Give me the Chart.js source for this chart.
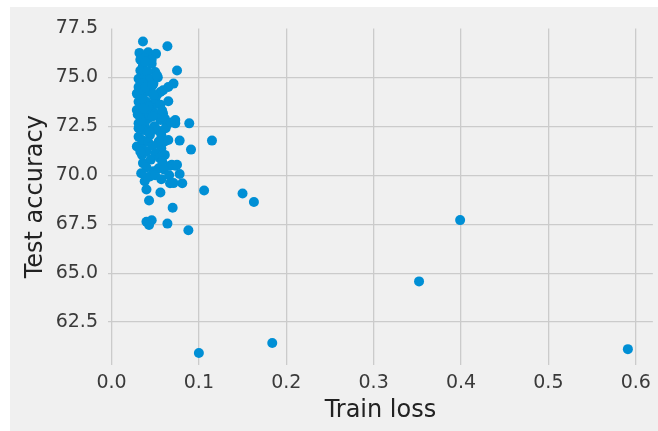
<!DOCTYPE html>
<html>
<head>
<meta charset="utf-8">
<script src="https://cdn.jsdelivr.net/npm/chart.js@4.4.1/dist/chart.umd.min.js"></script>
<style>
  body { margin: 0; background: #ffffff; }
  #wrap { position: absolute; left: 10px; top: 7px; width: 648px; height: 424px; background: #f0f0f0; }
</style>
</head>
<body>
<div id="wrap"><canvas id="myChart" width="648" height="424"></canvas></div>
<script>
// values
const trainLoss = [
    0.100, 0.184, 0.591, 0.352, 0.399, 0.106, 0.150, 0.163, 0.088, 0.064,
    0.070, 0.040, 0.046, 0.043, 0.043, 0.056, 0.067, 0.081, 0.040, 0.115,
    0.091, 0.078, 0.078, 0.073, 0.067, 0.038, 0.044, 0.048, 0.054, 0.036,
    0.035, 0.040, 0.035, 0.029, 0.031, 0.044, 0.057, 0.061, 0.057, 0.061,
    0.065, 0.036, 0.063, 0.073, 0.089, 0.054, 0.069, 0.075, 0.036, 0.064,
    0.032, 0.042, 0.051, 0.075, 0.036, 0.046, 0.050, 0.033, 0.031, 0.038,
    0.046, 0.031, 0.040, 0.048, 0.071, 0.065, 0.059, 0.056, 0.029, 0.036,
    0.044, 0.031, 0.040, 0.065, 0.048, 0.029, 0.036, 0.044, 0.050, 0.059,
    0.033, 0.042, 0.056, 0.061, 0.073, 0.057, 0.031, 0.038, 0.033, 0.038,
    0.035, 0.041, 0.044, 0.036, 0.032, 0.045, 0.050, 0.034, 0.042, 0.047,
    0.038, 0.043, 0.049, 0.053, 0.031, 0.035, 0.042, 0.047, 0.050, 0.033,
    0.045, 0.040, 0.055, 0.058, 0.052, 0.056, 0.046, 0.053, 0.039, 0.034,
    0.030, 0.048, 0.058, 0.062, 0.068, 0.041, 0.050, 0.057, 0.037, 0.044,
    0.039, 0.052, 0.047, 0.034, 0.060, 0.066, 0.071
];
const testAcc = [
    60.92, 61.43, 61.12, 64.58, 67.71, 69.22, 69.07, 68.63, 67.19, 67.53,
    68.34, 67.63, 67.70, 67.46, 68.71, 69.12, 69.59, 69.59, 69.27, 71.77,
    71.31, 71.77, 70.06, 70.49, 70.49, 69.69, 69.94, 70.20, 70.36, 70.62,
    71.04, 71.21, 71.55, 71.47, 71.97, 72.06, 72.06, 71.72, 71.38, 71.04,
    71.80, 72.57, 72.57, 72.65, 72.65, 71.72, 70.54, 70.54, 76.83, 76.59,
    76.25, 76.28, 76.20, 75.35, 75.61, 75.69, 75.27, 75.35, 74.93, 75.02,
    74.85, 74.51, 74.51, 74.68, 74.68, 74.51, 74.34, 74.25, 74.17, 74.09,
    74.25, 73.75, 73.75, 73.78, 73.58, 73.33, 73.24, 73.33, 73.15, 73.15,
    72.99, 72.90, 72.82, 72.90, 72.82, 72.99, 72.65, 72.65, 75.90, 76.00,
    75.40, 75.30, 74.90, 74.70, 74.30, 74.40, 73.90, 73.90, 73.50, 73.00,
    72.30, 72.30, 72.50, 72.30, 72.40, 71.80, 71.70, 71.50, 71.10, 71.20,
    70.80, 70.40, 70.90, 70.70, 74.10, 73.60, 75.90, 75.00, 74.50, 72.80,
    73.10, 74.10, 73.30, 72.40, 72.70, 69.90, 70.00, 69.80, 73.40, 72.20,
    75.80, 75.10, 74.60, 70.10, 70.30, 70.00, 69.60
];

const xTicks = [0, 0.1, 0.2, 0.3, 0.4, 0.5, 0.6];
const yTicks = [62.5, 65.0, 67.5, 70.0, 72.5, 75.0, 77.5];

const points = trainLoss.map((v, i) => ({x: v, y: testAcc[i]}));

const tickFont = {family: 'DejaVu Sans', size: 19};
const titleFont = {family: 'DejaVu Sans', size: 24};

let ctx = document.getElementById('myChart').getContext('2d');
new Chart(ctx, {
    type: 'scatter',
    data: {
        datasets: [{
            data: points,
            backgroundColor: '#008fd5',
            borderWidth: 0,
            pointRadius: 5,
            pointHoverRadius: 5,
        }]
    },
    options: {
        responsive: false,
        animation: false,
        devicePixelRatio: 1,
        layout: {padding: {top: 19, right: 0, left: 0, bottom: 0}},
        plugins: {
            legend: {display: false},
            tooltip: {enabled: false},
        },
        scales: {
            x: {
                type: 'linear',
                min: -0.004,
                max: 0.6196,
                afterBuildTicks: s => { s.ticks = xTicks.map(v => ({value: v})); },
                afterFit: s => { s.height = 66; },
                border: {display: false},
                grid: {color: '#cbcbcb', lineWidth: 1.3, drawTicks: false},
                ticks: {
                    font: tickFont,
                    color: '#3a3a3a',
                    padding: 7,
                    maxRotation: 0,
                    callback: v => v.toFixed(1),
                },
                title: {
                    display: true,
                    text: 'Train loss',
                    font: titleFont,
                    color: '#222222',
                    padding: {top: 0, bottom: 6},
                },
            },
            y: {
                type: 'linear',
                min: 60.31,
                max: 77.5,
                afterBuildTicks: s => { s.ticks = yTicks.map(v => ({value: v})); },
                afterFit: s => { s.width = 98; },
                border: {display: false},
                grid: {
                    color: c => (c.tick && c.tick.value === 77.5) ? 'rgba(0,0,0,0)' : '#cbcbcb',
                    lineWidth: 1.3,
                    drawTicks: false,
                },
                ticks: {
                    font: tickFont,
                    color: '#3a3a3a',
                    padding: 10,
                    callback: v => v.toFixed(1),
                },
                title: {
                    display: true,
                    text: 'Test accuracy',
                    font: titleFont,
                    color: '#222222',
                    padding: {top: 11, bottom: 0},
                },
            },
        },
    },
});
</script>
</body>
</html>
